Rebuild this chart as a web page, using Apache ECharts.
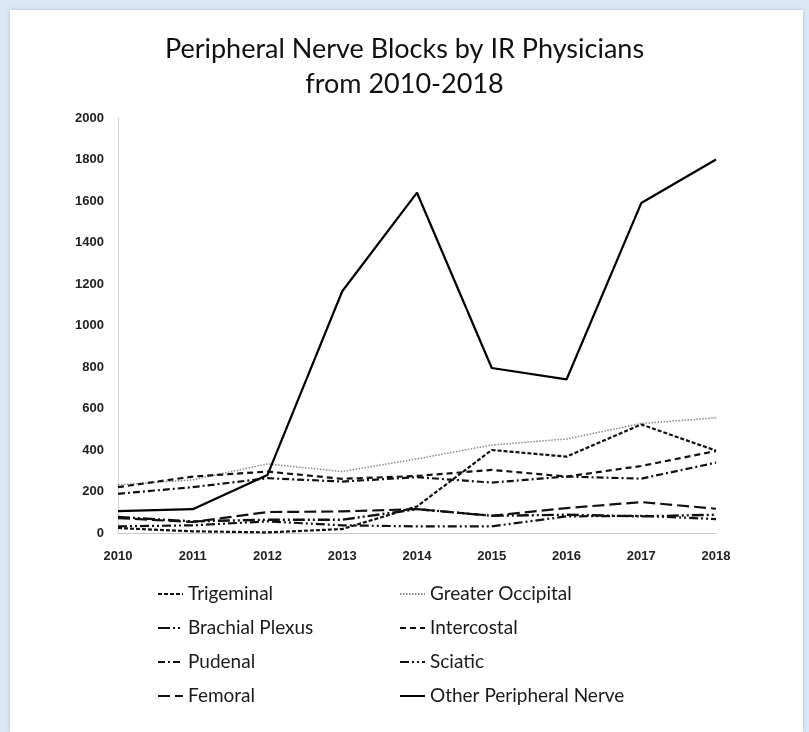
<!DOCTYPE html>
<html>
<head>
<meta charset="utf-8">
<script src="https://cdn.jsdelivr.net/npm/echarts@6/dist/echarts.min.js"></script>
<style>
html,body{margin:0;padding:0;width:809px;height:732px;background:#dce8f3;overflow:hidden;}
#panel{position:absolute;left:10px;top:10px;width:793px;height:722px;background:#fff;box-shadow:0 0 3px rgba(120,150,180,0.5);}
#chart{position:absolute;left:0;top:0;width:809px;height:732px;}
</style>
</head>
<body>
<div id="panel"></div>
<div id="chart"></div>
<script>
const years = ['2010','2011','2012','2013','2014','2015','2016','2017','2018'];
const yTicks = [0,200,400,600,800,1000,1200,1400,1600,1800,2000];
const trigeminal = [24,8,3,19,128,400,368,523,397];
const greaterOccipital = [232,256,333,296,357,424,453,528,555];
const brachialPlexus = [77,56,64,64,115,83,88,80,88];
const intercostal = [221,272,296,261,275,304,272,323,395];
const pudenal = [189,221,264,248,269,243,272,262,339];
const sciatic = [32,37,56,37,32,32,80,83,67];
const femoral = [72,53,101,104,115,83,120,149,117];
const otherPeripheral = [105,115,280,1165,1640,795,740,1590,1800];

const seriesDefs = [
  {name:'Trigeminal', data:trigeminal, color:'#111', width:2.2, type:[4,2]},
  {name:'Greater Occipital', data:greaterOccipital, color:'#888', width:1.5, type:[1.5,1.5]},
  {name:'Brachial Plexus', data:brachialPlexus, color:'#111', width:2.4, type:[12,3,2,3,2,3]},
  {name:'Intercostal', data:intercostal, color:'#111', width:2.2, type:[6,4]},
  {name:'Pudenal', data:pudenal, color:'#111', width:2.2, type:[7,3,2,3]},
  {name:'Sciatic', data:sciatic, color:'#111', width:2.2, type:[9,3,2,3,2,3]},
  {name:'Femoral', data:femoral, color:'#111', width:2.2, type:[12,5]},
  {name:'Other Peripheral Nerve', data:otherPeripheral, color:'#000', width:2.2, type:'solid'}
];

const chart = echarts.init(document.getElementById('chart'), null, {renderer:'canvas'});
const legendText = {fontFamily:'Lato, "Open Sans", sans-serif', fontSize:19, color:'#1a1a1a', lineHeight:20};
const legendCommon = {orient:'vertical', top:579, itemWidth:25, itemHeight:14, itemGap:14,
  textStyle:legendText, selectedMode:false, itemStyle:{opacity:0}};
chart.setOption({
  backgroundColor:'transparent',
  animation:false,
  title:{
    text:'Peripheral Nerve Blocks by IR Physicians\nfrom 2010-2018',
    left:'center', top:27,
    textStyle:{fontFamily:'Lato, "Open Sans", sans-serif', fontSize:27, fontWeight:'normal', color:'#111', lineHeight:35}
  },
  legend:[
    Object.assign({left:152, data:['Trigeminal','Brachial Plexus','Pudenal','Femoral']}, legendCommon),
    Object.assign({left:394, data:['Greater Occipital','Intercostal','Sciatic','Other Peripheral Nerve']}, legendCommon)
  ],
  grid:{left:118, right:93, top:118, bottom:199, containLabel:false},
  xAxis:{
    type:'category', data:years, boundaryGap:false,
    axisLine:{lineStyle:{color:'#c8c8c8', width:1}},
    axisTick:{show:false},
    axisLabel:{fontFamily:'"Liberation Sans", Arial, sans-serif', fontWeight:'bold', fontSize:13, color:'#222', margin:17}
  },
  yAxis:{
    type:'value', min:yTicks[0], max:yTicks[yTicks.length-1], interval:yTicks[1]-yTicks[0],
    axisLine:{show:true, lineStyle:{color:'#d4d4d4', width:1}},
    axisTick:{show:false},
    splitLine:{show:false},
    axisLabel:{fontFamily:'"Liberation Sans", Arial, sans-serif', fontWeight:'bold', fontSize:13, color:'#222', margin:14,
      formatter:function(v){return String(v);}}
  },
  series: seriesDefs.map(s => ({
    name:s.name, type:'line', data:s.data, symbol:'none', smooth:false,
    color:s.color,
    lineStyle:{color:s.color, width:s.width, type:s.type},
    itemStyle:{color:s.color}
  }))
});
</script>
</body>
</html>
